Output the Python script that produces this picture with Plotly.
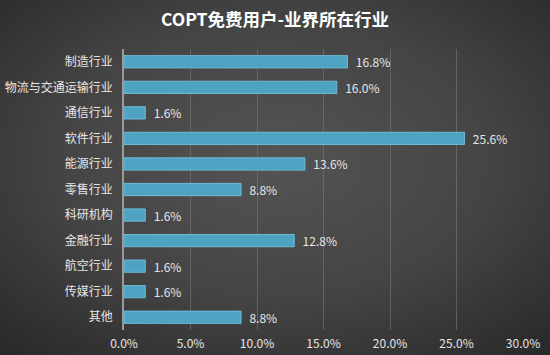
import plotly.graph_objects as go

categories = ["制造行业", "物流与交通运输行业", "通信行业", "软件行业", "能源行业",
              "零售行业", "科研机构", "金融行业", "航空行业", "传媒行业", "其他"]
values = [16.8, 16.0, 1.6, 25.6, 13.6, 8.8, 1.6, 12.8, 1.6, 1.6, 8.8]
tick_vals = [0, 5, 10, 15, 20, 25, 30]
tick_text = ["0.0%", "5.0%", "10.0%", "15.0%", "20.0%", "25.0%", "30.0%"]
title_text = "COPT免费用户-业界所在行业"

FONT = "Noto Sans CJK SC, Noto Sans, sans-serif"
ML, MR, MT, MB = 124, 27, 49, 25
PW, PH = 550 - ML - MR, 355 - MT - MB

bg_svg = (
    "data:image/svg+xml;utf8,"
    "<svg xmlns='http://www.w3.org/2000/svg' width='550' height='355' preserveAspectRatio='none'>"
    "<defs><radialGradient id='g' cx='50%' cy='45%' r='72%'>"
    "<stop offset='0%' stop-color='%23545454'/>"
    "<stop offset='55%' stop-color='%23444444'/>"
    "<stop offset='100%' stop-color='%232a2a2a'/>"
    "</radialGradient></defs>"
    "<rect width='550' height='355' fill='url(%23g)'/></svg>"
)

fig = go.Figure()
fig.add_trace(go.Bar(
    x=values,
    y=categories,
    orientation="h",
    marker=dict(color="#4ea3c2", line=dict(color="#6fbad6", width=1)),
    text=[f"\u00a0\u00a0{v:.1f}%" for v in values],
    textposition="outside",
    constraintext="none",
    textfont=dict(color="#e6e6e6", size=12, family=FONT),
    cliponaxis=False,
    hoverinfo="skip",
))

fig.update_layout(
    width=550, height=355,
    margin=dict(l=ML, r=MR, t=MT, b=MB, autoexpand=False),
    paper_bgcolor="#404040",
    plot_bgcolor="rgba(0,0,0,0)",
    bargap=0.52,
    showlegend=False,
    uniformtext=dict(minsize=12, mode="show"),
    title=dict(text=f"<b>{title_text}</b>", x=0.5, xanchor="center", y=0.944, yanchor="middle",
               font=dict(color="#ffffff", size=17.5, family=FONT)),
    images=[dict(source=bg_svg, xref="paper", yref="paper",
                 x=-ML / PW, y=1 + MT / PH, sizex=550 / PW, sizey=355 / PH,
                 xanchor="left", yanchor="top", sizing="stretch", layer="below")],
    xaxis=dict(range=[0, 30], tickvals=tick_vals, ticktext=tick_text,
               showgrid=True, gridcolor="rgba(120,120,120,0.6)", gridwidth=1,
               zeroline=False, showline=False, ticks="", automargin=False,
               ticklabelstandoff=5,
               tickfont=dict(color="#e6e6e6", size=12, family=FONT)),
    yaxis=dict(autorange="reversed", showgrid=False, ticks="", automargin=False,
               showline=True, linecolor="#9a9a9a", linewidth=1.5,
               ticklabelstandoff=7,
               tickfont=dict(color="#e6e6e6", size=12, family=FONT)),
)

fig.write_html("out.html", config={"displayModeBar": False},
               post_script="document.body.style.margin='0';document.body.style.overflow='hidden';")
